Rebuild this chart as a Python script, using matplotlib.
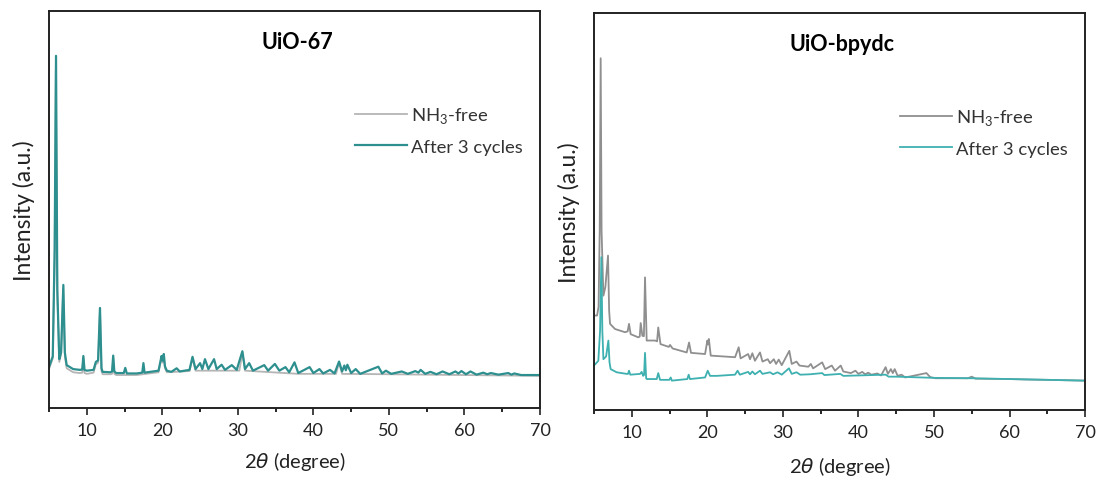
import numpy as np
import matplotlib
matplotlib.use("Agg")
import matplotlib.pyplot as plt
from matplotlib.ticker import MultipleLocator

plt.rcParams['font.family'] = ['Lato', 'DejaVu Sans']
plt.rcParams['mathtext.fontset'] = 'dejavusans'

## traced XRD patterns, (2theta, intensity a.u.)
uio67_free = [
    (5.0, 9.8), (5.5, 12.5), (5.75, 38), (5.9, 85), (6.1, 29), (6.36, 11.6), (6.6, 13.5),
    (6.88, 30), (7.1, 13), (7.34, 10), (8.2, 9.0), (9.1, 8.8), (9.4, 8.9), (9.55, 12.6),
    (9.7, 8.8), (10.0, 8.6), (10.9, 8.9), (11.2, 11), (11.5, 11.4), (11.75, 24.5),
    (11.95, 9.3), (12.1, 8.5), (13.1, 8.5), (13.35, 8.6), (13.5, 12.6), (13.65, 8.6),
    (13.9, 8.3), (16.6, 8.3), (19.5, 9.0), (19.9, 12.6), (20.05, 11.4), (20.2, 13.1),
    (20.35, 10), (20.6, 9.0), (23.6, 9.3), (24.0, 12.5), (24.4, 9.4), (30.2, 9.4),
    (30.6, 13.9), (30.95, 9.4), (38.0, 8.6), (43.0, 8.6), (43.4, 11.4), (43.8, 8.6),
    (50.0, 8.5), (60.0, 8.3), (70.0, 8.1)]

uio67_cycled = [
    (5.0, 10.3), (5.5, 13), (5.75, 40), (5.93, 88.7), (6.1, 30), (6.36, 12.3), (6.6, 14),
    (6.9, 31), (7.1, 14), (7.34, 10.8), (8.2, 9.8), (9.1, 9.6), (9.4, 9.7), (9.55, 13.1),
    (9.7, 9.6), (10.0, 9.4), (10.9, 9.6), (11.2, 11.6), (11.5, 12), (11.75, 25.2),
    (11.95, 10), (12.1, 9.1), (13.1, 9.0), (13.35, 9.2), (13.5, 13.2), (13.65, 9.2),
    (13.9, 8.8), (14.9, 8.8), (15.1, 10.1), (15.3, 8.7), (16.6, 8.7), (17.35, 8.9),
    (17.5, 11.3), (17.65, 8.9), (19.5, 9.4), (19.9, 13.1), (20.05, 11.9), (20.2, 13.6),
    (20.35, 10.5), (20.6, 9.4), (21.2, 9.1), (21.9, 10.0), (22.3, 9.2), (23.6, 9.6),
    (24.0, 12.9), (24.4, 9.8), (25.0, 11.3), (25.3, 9.8), (25.65, 12.3), (26.1, 9.8),
    (26.85, 12.3), (27.2, 9.8), (27.85, 10.9), (28.3, 9.6), (29.2, 10.8), (29.85, 9.6),
    (30.6, 14.3), (30.95, 9.8), (31.5, 11.3), (32.0, 9.4), (33.5, 10.8), (34.0, 9.4),
    (34.9, 11.1), (35.5, 9.4), (36.3, 10.3), (36.8, 9.0), (37.5, 11.5), (38.0, 8.8),
    (39.5, 10.3), (40.0, 8.8), (40.8, 9.8), (41.3, 8.7), (42.2, 9.6), (42.8, 8.7),
    (43.4, 11.7), (43.8, 9.2), (44.1, 10.7), (44.3, 9.5), (44.5, 10.9), (45.0, 8.8),
    (45.6, 9.8), (46.2, 8.6), (48.6, 10.4), (49.1, 8.7), (49.6, 9.4), (50.3, 8.6),
    (51.7, 9.2), (52.5, 8.6), (53.5, 9.3), (53.9, 8.9), (54.2, 9.6), (54.8, 8.6),
    (55.5, 9.1), (56.3, 8.5), (57.1, 9.2), (58.0, 8.5), (58.8, 9.2), (59.2, 8.7),
    (59.6, 9.3), (60.2, 8.5), (60.8, 9.2), (61.6, 8.4), (62.5, 8.9), (63.0, 8.5),
    (63.5, 8.8), (64.5, 8.4), (65.8, 8.8), (66.2, 8.4), (66.6, 8.7), (67.5, 8.3), (70.0, 8.3)]

bpydc_free = [
    (5.0, 23.8), (5.4, 23.8), (5.6, 26), (5.75, 45), (5.88, 88.6), (6.0, 45), (6.24, 28.8),
    (6.5, 31), (6.85, 38.9), (7.0, 25), (7.12, 21.7), (7.78, 20.4), (9.1, 19.6), (9.45, 19.8),
    (9.63, 21.7), (9.85, 19.1), (10.87, 18.3), (11.05, 18.5), (11.18, 21.9), (11.4, 18.7),
    (11.6, 18.6), (11.75, 33.4), (11.97, 17.5), (13.08, 17.5), (13.35, 17.3), (13.5, 20.8),
    (13.8, 16.6), (14.9, 15.9), (15.06, 16.4), (15.4, 15.5), (17.27, 14.5), (17.58, 17.0),
    (17.84, 14.4), (19.7, 14.1), (20.0, 17.5), (20.1, 16.5), (20.2, 17.9), (20.45, 13.7),
    (23.67, 13.3), (24.15, 15.8), (24.4, 13.0), (25.4, 14.1), (25.65, 12.8), (25.96, 14.3),
    (26.3, 12.4), (26.97, 14.5), (27.3, 12.2), (28.0, 12.8), (28.3, 11.8), (28.8, 12.8),
    (29.1, 11.6), (29.45, 12.7), (29.85, 11.3), (30.85, 14.9), (31.17, 11.6), (31.8, 12.2),
    (32.2, 11.2), (33.37, 10.9), (33.7, 11.6), (34.0, 10.5), (35.2, 12.0), (35.6, 10.3),
    (36.47, 11.2), (36.9, 9.9), (37.66, 11.2), (38.0, 9.7), (39.0, 9.3), (39.6, 9.9),
    (40.0, 9.1), (40.5, 9.6), (40.9, 9.0), (41.3, 9.4), (41.7, 8.9), (42.5, 9.2), (43.0, 8.7),
    (43.6, 10.8), (43.9, 9.1), (44.3, 10.3), (44.55, 9.3), (44.8, 10.3), (45.2, 8.6),
    (45.7, 8.9), (46.2, 8.2), (49.0, 9.3), (49.5, 8.3), (50.2, 8.0), (54.5, 8.0), (55.0, 8.4),
    (55.5, 7.9), (60.0, 7.8), (62.0, 7.7), (65.0, 7.6), (70.0, 7.4)]

bpydc_cycled = [
    (5.0, 11.2), (5.57, 12.4), (5.8, 20), (5.97, 38.5), (6.1, 20), (6.24, 12.8), (6.6, 13.5),
    (6.9, 17.5), (7.05, 12), (7.2, 10.3), (8.0, 9.5), (9.33, 9.1), (9.5, 9.1), (9.63, 9.9),
    (9.8, 8.9), (11.1, 9.1), (11.3, 9.6), (11.5, 8.6), (11.62, 8.8), (11.75, 14.4),
    (11.9, 8.0), (11.98, 7.8), (13.3, 7.8), (13.5, 9.3), (13.74, 7.6), (14.97, 7.6),
    (15.15, 8.2), (15.3, 7.4), (17.35, 7.8), (17.53, 8.9), (17.7, 7.8), (19.7, 8.2),
    (20.05, 9.9), (20.36, 8.6), (21.25, 8.6), (23.67, 8.9), (24.0, 9.9), (24.3, 8.9),
    (25.4, 9.6), (25.65, 9.0), (25.96, 9.7), (26.3, 9.0), (26.97, 9.9), (27.3, 9.1),
    (28.3, 9.5), (28.7, 9.0), (29.3, 9.5), (29.85, 8.9), (30.8, 10.5), (31.17, 9.1),
    (31.8, 9.5), (32.3, 8.9), (33.6, 9.0), (35.2, 9.3), (35.5, 8.8), (37.6, 9.1), (38.0, 8.6),
    (43.6, 8.9), (44.0, 8.4), (45.0, 8.4), (50.0, 8.1), (55.0, 8.0), (60.0, 7.8), (65.0, 7.6),
    (70.0, 7.4)]

titles = ['UiO-67', 'UiO-bpydc']
labels = [r'NH$_\mathregular{3}$-free', 'After 3 cycles']

## left panel colours, right panel colours
colors_left = ['#b5b5b5', '#2e8f8f']
colors_right = ['#8f8f8f', '#3fb0b0']

fig = plt.figure(figsize=(10.96, 4.81), dpi=100)
ax1 = fig.add_axes((0.0447, 0.1497, 0.448, 0.8254))
ax2 = fig.add_axes((0.542, 0.1455, 0.448, 0.8254))

panels = [(ax1, [uio67_free, uio67_cycled], colors_left, [1.3, 1.6], 8),
          (ax2, [bpydc_free, bpydc_cycled], colors_right, [1.3, 1.3], 10)]

for i, (ax, series, cols, lws, xpad) in enumerate(panels):
    for data, col, lw, lab in zip(series, cols, lws, labels):
        x, y = zip(*data)
        ax.plot(x, y, color=col, lw=lw, label=lab)
    ax.set_xlim(5, 70)
    ax.set_ylim(0, 100)
    ax.xaxis.set_major_locator(MultipleLocator(10))
    ax.xaxis.set_minor_locator(MultipleLocator(5))
    ax.set_yticks([])
    ax.tick_params(axis='x', which='major', direction='out', length=5, width=1.2,
                   labelsize=13, pad=5, colors='#222222')
    ax.tick_params(axis='x', which='minor', direction='out', length=3, width=1.2)
    for sp in ax.spines.values():
        sp.set_linewidth(1.4)
        sp.set_color('#222222')
    ax.set_xlabel(r'2$\theta$ (degree)', fontsize=14.5, labelpad=xpad, color='#222222')
    ax.set_ylabel('Intensity (a.u.)', fontsize=16.5, labelpad=10, color='#222222')
    ax.text(0.505, 0.924, titles[i], transform=ax.transAxes, ha='center', va='center',
            fontsize=15.5, fontweight='bold')
    leg = ax.legend(loc='upper left', bbox_to_anchor=(0.59, 0.805), frameon=False,
                    fontsize=13.3, handlelength=2.8, handletextpad=0.2, labelspacing=0.75)
    for t in leg.get_texts():
        t.set_color('#333333')

fig.savefig('out.png', dpi=100)
